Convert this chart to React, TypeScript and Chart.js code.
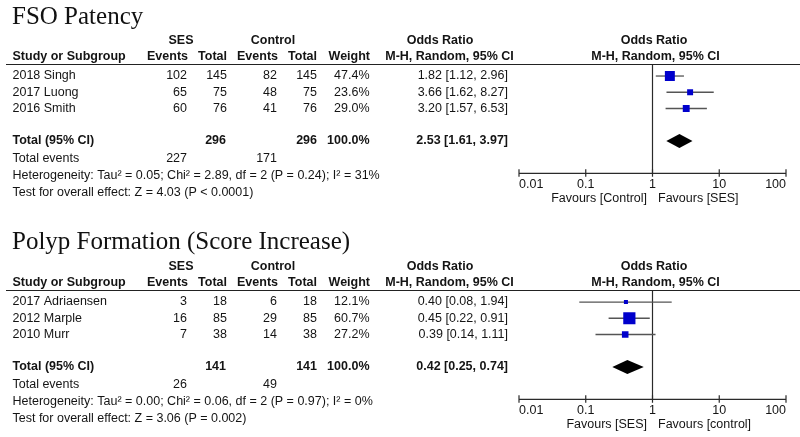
import React, { useEffect, useRef } from 'react';
import { Chart, registerables } from 'chart.js';

Chart.register(...registerables);

// ---------- shared axis ----------
const TICK_VALUES = [0.01, 0.1, 1, 10, 100];
const TICK_LABELS = ['0.01', '0.1', '1', '10', '100'];

// ---------- panel 1: FSO Patency ----------
const FSO_TITLE = 'FSO Patency';
const FSO_STUDIES = ['2018 Singh', '2017 Luong', '2016 Smith'];
const FSO_SES_EVENTS = [102, 65, 60];
const FSO_SES_TOTAL = [145, 75, 76];
const FSO_CTRL_EVENTS = [82, 48, 41];
const FSO_CTRL_TOTAL = [145, 75, 76];
const FSO_WEIGHT = [47.4, 23.6, 29.0];
const FSO_OR = [1.82, 3.66, 3.2];
const FSO_LO = [1.12, 1.62, 1.57];
const FSO_HI = [2.96, 8.27, 6.53];
const FSO_POOLED = [2.53, 1.61, 3.97];
const FSO_TOTALS = [296, 296];
const FSO_TOTAL_EVENTS = [227, 171];
const FSO_HETEROGENEITY = 'Heterogeneity: Tau\u00b2 = 0.05; Chi\u00b2 = 2.89, df = 2 (P = 0.24); I\u00b2 = 31%';
const FSO_OVERALL = 'Test for overall effect: Z = 4.03 (P < 0.0001)';
const FSO_FAVOURS = ['Favours [Control]', 'Favours [SES]'];

// ---------- panel 2: Polyp Formation ----------
const POLYP_TITLE = 'Polyp Formation (Score Increase)';
const POLYP_STUDIES = ['2017 Adriaensen', '2012 Marple', '2010 Murr'];
const POLYP_SES_EVENTS = [3, 16, 7];
const POLYP_SES_TOTAL = [18, 85, 38];
const POLYP_CTRL_EVENTS = [6, 29, 14];
const POLYP_CTRL_TOTAL = [18, 85, 38];
const POLYP_WEIGHT = [12.1, 60.7, 27.2];
const POLYP_OR = [0.4, 0.45, 0.39];
const POLYP_LO = [0.08, 0.22, 0.14];
const POLYP_HI = [1.94, 0.91, 1.11];
const POLYP_POOLED = [0.42, 0.25, 0.74];
const POLYP_TOTALS = [141, 141];
const POLYP_TOTAL_EVENTS = [26, 49];
const POLYP_HETEROGENEITY = 'Heterogeneity: Tau\u00b2 = 0.00; Chi\u00b2 = 0.06, df = 2 (P = 0.97); I\u00b2 = 0%';
const POLYP_OVERALL = 'Test for overall effect: Z = 3.06 (P = 0.002)';
const POLYP_FAVOURS = ['Favours [SES]', 'Favours [control]'];

const HEADER_GROUPS = ['SES', 'Control', 'Odds Ratio', 'Odds Ratio'];
const HEADER_COLS = ['Study or Subgroup', 'Events', 'Total', 'Events', 'Total', 'Weight', 'M-H, Random, 95% CI', 'M-H, Random, 95% CI'];
const TOTAL_LABEL = 'Total (95% CI)';
const EVENTS_LABEL = 'Total events';

// ---------- layout / style ----------
const SANS = '"Liberation Sans", Arial, Helvetica, sans-serif';
const SERIF = '"Liberation Serif", "Times New Roman", Times, serif';
const FS = 12.5;
const TEXT = '#141414';
const BLUE = '#0000cc';
const COL = { study: 12.5, sesEv: 187, sesTot: 227, ctEv: 277, ctTot: 317, weight: 369.5, or: 508 };

type Panel = {
  title: string; titleY: number; height: number;
  studies: string[]; sesEv: number[]; sesTot: number[]; ctEv: number[]; ctTot: number[];
  weight: number[]; or: number[]; lo: number[]; hi: number[];
  pooled: number[]; totals: number[]; events: number[];
  het: string; overall: string; favours: string[];
};

const PANELS: Panel[] = [
  {
    title: FSO_TITLE, titleY: 24, height: 226,
    studies: FSO_STUDIES, sesEv: FSO_SES_EVENTS, sesTot: FSO_SES_TOTAL, ctEv: FSO_CTRL_EVENTS, ctTot: FSO_CTRL_TOTAL,
    weight: FSO_WEIGHT, or: FSO_OR, lo: FSO_LO, hi: FSO_HI, pooled: FSO_POOLED, totals: FSO_TOTALS,
    events: FSO_TOTAL_EVENTS, het: FSO_HETEROGENEITY, overall: FSO_OVERALL, favours: FSO_FAVOURS,
  },
  {
    title: POLYP_TITLE, titleY: 22.5, height: 211,
    studies: POLYP_STUDIES, sesEv: POLYP_SES_EVENTS, sesTot: POLYP_SES_TOTAL, ctEv: POLYP_CTRL_EVENTS, ctTot: POLYP_CTRL_TOTAL,
    weight: POLYP_WEIGHT, or: POLYP_OR, lo: POLYP_LO, hi: POLYP_HI, pooled: POLYP_POOLED, totals: POLYP_TOTALS,
    events: POLYP_TOTAL_EVENTS, het: POLYP_HETEROGENEITY, overall: POLYP_OVERALL, favours: POLYP_FAVOURS,
  },
];

function txt(ctx: CanvasRenderingContext2D, s: string, x: number, y: number, align: CanvasTextAlign, bold = false) {
  ctx.font = `${bold ? 'bold ' : ''}${FS}px ${SANS}`;
  ctx.textAlign = align;
  ctx.textBaseline = 'middle';
  ctx.fillStyle = TEXT;
  ctx.fillText(s, x, y);
}

function makePlugin(p: Panel) {
  return {
    id: 'forest',
    beforeDatasetsDraw(chart: any) {
      const { ctx, chartArea, scales } = chart;
      const xs = scales.x, ys = scales.y;
      ctx.save();
      // line of no effect
      const x1 = xs.getPixelForValue(1);
      ctx.strokeStyle = '#2a2a2a';
      ctx.lineWidth = 1.2;
      ctx.beginPath();
      ctx.moveTo(x1, chartArea.top);
      ctx.lineTo(x1, chartArea.bottom);
      ctx.stroke();
      // whiskers
      ctx.strokeStyle = '#555';
      ctx.lineWidth = 1.3;
      p.studies.forEach((_, i) => {
        const yy = ys.getPixelForValue(i);
        ctx.beginPath();
        ctx.moveTo(xs.getPixelForValue(p.lo[i]), yy);
        ctx.lineTo(xs.getPixelForValue(p.hi[i]), yy);
        ctx.stroke();
      });
      // pooled diamond
      const yd = ys.getPixelForValue(4);
      ctx.fillStyle = '#000';
      ctx.beginPath();
      ctx.moveTo(xs.getPixelForValue(p.pooled[1]), yd);
      ctx.lineTo(xs.getPixelForValue(p.pooled[0]), yd - 7);
      ctx.lineTo(xs.getPixelForValue(p.pooled[2]), yd);
      ctx.lineTo(xs.getPixelForValue(p.pooled[0]), yd + 7);
      ctx.closePath();
      ctx.fill();
      ctx.restore();
    },
    afterDraw(chart: any) {
      const { ctx, chartArea, scales } = chart;
      const xs = scales.x, ys = scales.y;
      ctx.save();
      // title
      ctx.font = `25px ${SERIF}`;
      ctx.textAlign = 'left';
      ctx.textBaseline = 'alphabetic';
      ctx.fillStyle = '#111';
      ctx.fillText(p.title, 12, p.titleY);

      // headers
      const h1 = 40.5, h2 = 57;
      txt(ctx, HEADER_GROUPS[0], 181, h1, 'center', true);
      txt(ctx, HEADER_GROUPS[1], 273, h1, 'center', true);
      txt(ctx, HEADER_GROUPS[2], 440, h1, 'center', true);
      txt(ctx, HEADER_GROUPS[3], 654, h1, 'center', true);
      txt(ctx, HEADER_COLS[0], COL.study, h2, 'left', true);
      txt(ctx, HEADER_COLS[1], COL.sesEv + 1, h2, 'right', true);
      txt(ctx, HEADER_COLS[2], COL.sesTot, h2, 'right', true);
      txt(ctx, HEADER_COLS[3], COL.ctEv + 1, h2, 'right', true);
      txt(ctx, HEADER_COLS[4], COL.ctTot, h2, 'right', true);
      txt(ctx, HEADER_COLS[5], COL.weight + 0.5, h2, 'right', true);
      txt(ctx, HEADER_COLS[6], 449.5, h2, 'center', true);
      txt(ctx, HEADER_COLS[7], 655.5, h2, 'center', true);

      // header rule
      ctx.strokeStyle = '#222';
      ctx.lineWidth = 1.2;
      ctx.beginPath();
      ctx.moveTo(6, chartArea.top);
      ctx.lineTo(800, chartArea.top);
      ctx.stroke();

      // study rows
      p.studies.forEach((s, i) => {
        const yy = ys.getPixelForValue(i);
        txt(ctx, s, COL.study, yy, 'left');
        txt(ctx, String(p.sesEv[i]), COL.sesEv, yy, 'right');
        txt(ctx, String(p.sesTot[i]), COL.sesTot, yy, 'right');
        txt(ctx, String(p.ctEv[i]), COL.ctEv, yy, 'right');
        txt(ctx, String(p.ctTot[i]), COL.ctTot, yy, 'right');
        txt(ctx, p.weight[i].toFixed(1) + '%', COL.weight, yy, 'right');
        txt(ctx, `${p.or[i].toFixed(2)} [${p.lo[i].toFixed(2)}, ${p.hi[i].toFixed(2)}]`, COL.or, yy, 'right');
      });

      // total row
      const yt = ys.getPixelForValue(4);
      const wsum = p.weight.reduce((a, b) => a + b, 0);
      txt(ctx, TOTAL_LABEL, COL.study, yt, 'left', true);
      txt(ctx, String(p.totals[0]), COL.sesTot - 1, yt, 'right', true);
      txt(ctx, String(p.totals[1]), COL.ctTot, yt, 'right', true);
      txt(ctx, wsum.toFixed(1) + '%', COL.weight, yt, 'right', true);
      txt(ctx, `${p.pooled[0].toFixed(2)} [${p.pooled[1].toFixed(2)}, ${p.pooled[2].toFixed(2)}]`, COL.or, yt, 'right', true);

      // summary lines
      const ye = 158.7, yh = 175.7, yo = 192.3;
      txt(ctx, EVENTS_LABEL, COL.study, ye, 'left');
      txt(ctx, String(p.events[0]), COL.sesEv, ye, 'right');
      txt(ctx, String(p.events[1]), COL.ctEv, ye, 'right');
      txt(ctx, p.het, COL.study, yh, 'left');
      txt(ctx, p.overall, COL.study, yo, 'left');

      // x axis
      const ay = chartArea.bottom;
      ctx.strokeStyle = '#2a2a2a';
      ctx.lineWidth = 1.2;
      ctx.beginPath();
      ctx.moveTo(xs.getPixelForValue(TICK_VALUES[0]), ay);
      ctx.lineTo(xs.getPixelForValue(TICK_VALUES[TICK_VALUES.length - 1]), ay);
      TICK_VALUES.forEach((v) => {
        const px = xs.getPixelForValue(v);
        ctx.moveTo(px, ay - 4);
        ctx.lineTo(px, ay + 3.5);
      });
      ctx.stroke();
      TICK_VALUES.forEach((v, i) => {
        const px = xs.getPixelForValue(v);
        const align: CanvasTextAlign = i === 0 ? 'left' : i === TICK_VALUES.length - 1 ? 'right' : 'center';
        txt(ctx, TICK_LABELS[i], px, ay + 11.4, align);
      });
      const x1 = xs.getPixelForValue(1);
      txt(ctx, p.favours[0], x1 - 5.5, ay + 25.5, 'right');
      txt(ctx, p.favours[1], x1 + 5.5, ay + 25.5, 'left');
      ctx.restore();
    },
  };
}

function ForestPanel({ panel, top }: { panel: Panel; top: number }) {
  const ref = useRef<HTMLCanvasElement | null>(null);
  useEffect(() => {
    if (!ref.current) return;
    const chart = new Chart(ref.current, {
      type: 'scatter',
      data: {
        datasets: [
          {
            data: panel.or.map((v, i) => ({ x: v, y: i })),
            pointStyle: 'rect',
            pointRadius: panel.weight.map((w) => (2 + 0.168 * w) / Math.SQRT2),
            pointHoverRadius: panel.weight.map((w) => (2 + 0.168 * w) / Math.SQRT2),
            backgroundColor: BLUE,
            borderColor: BLUE,
            borderWidth: 0,
          },
        ],
      },
      options: {
        responsive: false,
        animation: false,
        events: [],
        layout: { padding: { left: 519, right: 14, top: 64.5, bottom: panel.height - 173.3 } },
        plugins: { legend: { display: false }, tooltip: { enabled: false } },
        scales: {
          x: { type: 'logarithmic', min: TICK_VALUES[0], max: TICK_VALUES[TICK_VALUES.length - 1], display: false },
          y: { type: 'linear', min: -0.71, max: 5.99, reverse: true, display: false },
        },
      },
      plugins: [makePlugin(panel)],
    } as any);
    return () => chart.destroy();
  }, [panel]);
  return (
    <div style={{ position: 'absolute', left: 0, top, width: 800, height: panel.height }}>
      <canvas ref={ref} width={800} height={panel.height} style={{ display: 'block' }} />
    </div>
  );
}

export default function App() {
  return (
    <div style={{ position: 'absolute', left: 0, top: 0, width: 800, height: 437, background: '#fff', overflow: 'hidden' }}>
      <ForestPanel panel={PANELS[0]} top={0} />
      <ForestPanel panel={PANELS[1]} top={226} />
    </div>
  );
}
